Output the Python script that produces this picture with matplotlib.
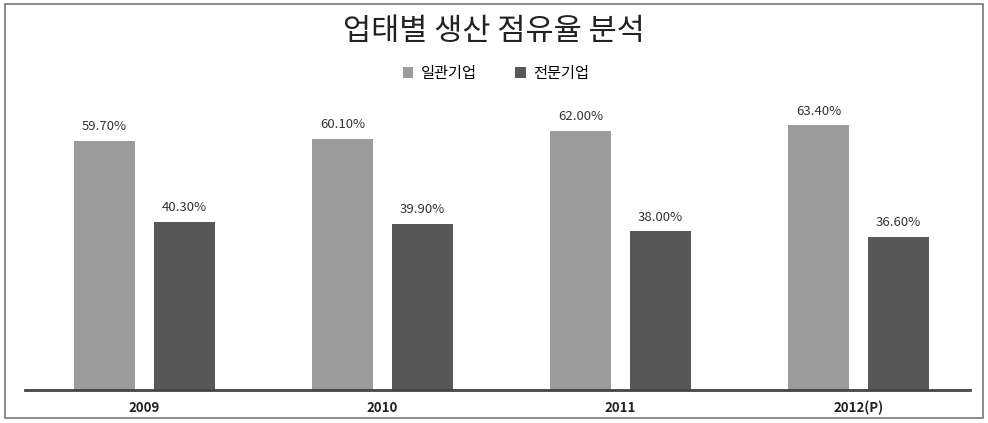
import matplotlib.pyplot as plt
from matplotlib.patches import Rectangle
import numpy as np

plt.rcParams['font.family'] = ['Noto Sans CJK KR', 'DejaVu Sans']

# === 데이터 ===
years = ["2009", "2010", "2011", "2012(P)"]
integrated = [59.7, 60.1, 62.0, 63.4]   # 일관기업
specialized = [40.3, 39.9, 38.0, 36.6]  # 전문기업
series_names = ["일관기업", "전문기업"]

light = "#9b9b9b"
dark = "#585858"

fig = plt.figure(figsize=(9.88, 4.23), dpi=100)
ax = fig.add_axes([25 / 988, 33 / 423, 945 / 988, 290 / 423])

x = np.arange(len(years))
w = 0.256
off = 0.168
b1 = ax.bar(x - off, integrated, w, color=light, label=series_names[0])
b2 = ax.bar(x + off, specialized, w, color=dark, label=series_names[1])

for bars, vals in [(b1, integrated), (b2, specialized)]:
    for rect, v in zip(bars, vals):
        ax.text(rect.get_x() + rect.get_width() / 2, v + 1.9, f"{v:.2f}%",
                ha='center', va='bottom', fontsize=9.5, color='#333333')

ax.set_xlim(-0.502, 3.468)
ax.set_ylim(0, 69.5)
ax.set_xticks(x)
ax.set_xticklabels(years, fontsize=9.5, fontweight='semibold', color='#222222')
ax.tick_params(axis='x', length=0, pad=8)
ax.set_yticks([])
for s in ['top', 'right', 'left']:
    ax.spines[s].set_visible(False)
ax.spines['bottom'].set_color('#444444')
ax.spines['bottom'].set_linewidth(2)
ax.set_facecolor('none')

fig.text(0.5, 0.925, "업태별 생산 점유율 분석", ha='center', va='center',
         fontsize=22, color='#222222')
fig.legend(handles=[b1, b2], loc='center', bbox_to_anchor=(0.502, 0.827), ncol=2,
           frameon=False, fontsize=11, handlelength=0.7, handleheight=0.7,
           handletextpad=0.5, columnspacing=2.5)

# 외곽 테두리
fig.patches.append(Rectangle((0.005, 0.012), 0.99, 0.978, transform=fig.transFigure,
                             fill=False, edgecolor='#777777', linewidth=1.2))

fig.savefig("out.png", dpi=100)
